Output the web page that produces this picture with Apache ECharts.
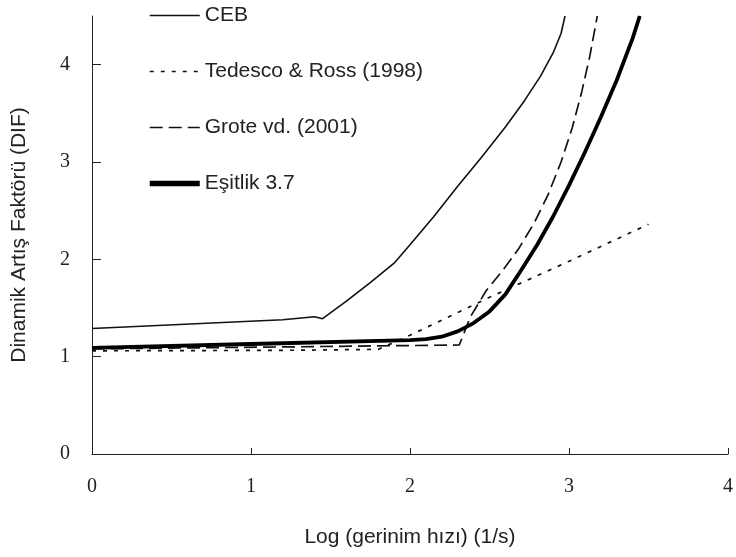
<!DOCTYPE html>
<html>
<head>
<meta charset="utf-8">
<script src="https://cdn.jsdelivr.net/npm/echarts@6/dist/echarts.min.js"></script>
<style>
html,body{margin:0;padding:0;background:#fff;}
#chart{width:736px;height:557px;}
</style>
</head>
<body>
<div id="chart"></div>
<script>
var seriesNames = ['CEB', 'Tedesco & Ross (1998)', 'Grote vd. (2001)', 'Eşitlik 3.7'];
var xTicks = [0, 1, 2, 3, 4];
var yTicks = [0, 1, 2, 3, 4];

var cebX = [0, 1.2, 1.4, 1.45, 1.6, 1.75, 1.9, 2.0, 2.15, 2.3, 2.45, 2.6, 2.72, 2.82, 2.9, 2.95, 2.975];
var cebY = [1.29, 1.38, 1.41, 1.39, 1.57, 1.76, 1.96, 2.15, 2.44, 2.75, 3.05, 3.36, 3.63, 3.88, 4.12, 4.32, 4.5];

var tedX = [0, 1.2, 1.8, 2.0, 2.5, 3.0, 3.5];
var tedY = [1.06, 1.065, 1.075, 1.22, 1.61, 1.98, 2.36];

var groX = [0, 1.2, 2.31, 2.38, 2.48, 2.58, 2.68, 2.78, 2.87, 2.95, 3.02, 3.08, 3.13, 3.178];
var groY = [1.08, 1.10, 1.12, 1.41, 1.68, 1.88, 2.10, 2.37, 2.67, 3.00, 3.35, 3.72, 4.08, 4.5];

var eqX = [0, 1, 2, 2.1, 2.2, 2.3, 2.4, 2.5, 2.6, 2.7, 2.8, 2.9, 3.0, 3.1, 3.2, 3.3, 3.4, 3.445];
var eqY = [1.09, 1.13, 1.17, 1.18, 1.205, 1.26, 1.345, 1.465, 1.64, 1.89, 2.15, 2.44, 2.76, 3.10, 3.46, 3.84, 4.27, 4.5];

function pairs(xs, ys) { return xs.map(function (x, i) { return [x, ys[i]]; }); }

var sans = 'Liberation Sans';
var serif = 'Liberation Serif';
var chart = echarts.init(document.getElementById('chart'));
chart.setOption({
  animation: false,
  backgroundColor: '#fff',
  grid: { left: 92, right: 5, top: 16, bottom: 103 },
  legend: {
    orient: 'vertical',
    left: 142,
    top: 0,
    itemWidth: 50,
    itemHeight: 22,
    itemGap: 35,
    itemStyle: { opacity: 0 },
    lineStyle: { width: 'inherit' },
    textStyle: { fontFamily: sans, fontSize: 21, color: '#222' },
    data: [
      { name: seriesNames[0] },
      { name: seriesNames[1] },
      { name: seriesNames[2] },
      { name: seriesNames[3], lineStyle: { width: 5.5 } }
    ]
  },
  xAxis: {
    type: 'value', min: 0, max: 4, interval: 1,
    name: 'Log (gerinim hızı) (1/s)',
    nameLocation: 'middle', nameGap: 73,
    nameTextStyle: { fontFamily: sans, fontSize: 21, color: '#222' },
    axisLine: { show: true, lineStyle: { color: '#222', width: 1 } },
    axisTick: { show: true, inside: true, length: 6, lineStyle: { color: '#222' }, customValues: xTicks },
    axisLabel: { fontFamily: serif, fontSize: 20, color: '#222', margin: 23, customValues: xTicks },
    splitLine: { show: false }
  },
  yAxis: {
    type: 'value', min: 0, max: 4.5, interval: 1,
    name: 'Dinamik Artış Faktörü (DIF)',
    nameLocation: 'middle', nameGap: 62, nameRotate: 90,
    nameTextStyle: { fontFamily: sans, fontSize: 21, color: '#222' },
    axisLine: { show: true, lineStyle: { color: '#222', width: 1 } },
    axisTick: { show: true, inside: true, length: 9, lineStyle: { color: '#222' }, customValues: yTicks },
    axisLabel: { fontFamily: serif, fontSize: 20, color: '#222', margin: 22, customValues: yTicks },
    splitLine: { show: false }
  },
  series: [
    { name: seriesNames[0], type: 'line', data: pairs(cebX, cebY), symbol: 'none', smooth: false,
      lineStyle: { color: '#111', width: 1.6, type: 'solid' }, itemStyle: { color: '#111' } },
    { name: seriesNames[1], type: 'line', data: pairs(tedX, tedY), symbol: 'none', smooth: false,
      lineStyle: { color: '#111', width: 1.7, type: [4, 7] }, itemStyle: { color: '#111' } },
    { name: seriesNames[2], type: 'line', data: pairs(groX, groY), symbol: 'none', smooth: false,
      lineStyle: { color: '#111', width: 1.7, type: [13, 6] }, itemStyle: { color: '#111' } },
    { name: seriesNames[3], type: 'line', data: pairs(eqX, eqY), symbol: 'none', smooth: false,
      lineStyle: { color: '#000', width: 3.8, type: 'solid', join: 'round' }, itemStyle: { color: '#000' } }
  ]
});
</script>
</body>
</html>
